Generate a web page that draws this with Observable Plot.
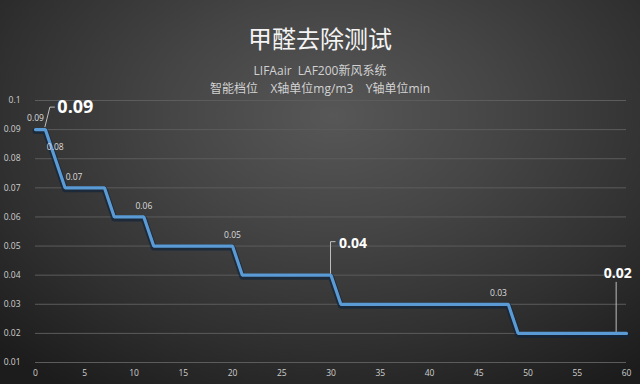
<!DOCTYPE html>
<html><head><meta charset="utf-8">
<script src="https://cdn.jsdelivr.net/npm/d3@7"></script>
<script src="https://cdn.jsdelivr.net/npm/@observablehq/plot@0.6"></script>
<style>
html,body{margin:0;padding:0;background:#222;}
#wrap{position:relative;width:640px;height:384px;overflow:hidden;
 background:radial-gradient(ellipse 75% 85% at 52% 30%, #575757 0%, #454545 35%, #303030 70%, #1c1c1c 100%);
 font-family:"Open Sans","Noto Sans CJK SC",sans-serif;}
#head{position:relative;height:90px;}
.t{position:absolute;left:0;width:640px;text-align:center;white-space:pre;}
#title{top:20px;font-size:24px;color:#f4f4f4;font-family:"Noto Sans CJK SC",sans-serif;}
#sub1{top:61px;font-size:12px;color:#d2d2d2;}
#sub2{top:79px;font-size:12px;color:#d2d2d2;}
#chart svg{display:block;background:transparent;overflow:visible;}
</style></head>
<body>
<div id="wrap">
  <div id="head">
    <div class="t" id="title">甲醛去除测试</div>
    <div class="t" id="sub1">LIFAair  LAF200新风系统</div>
    <div class="t" id="sub2">智能档位    X轴单位mg/m3    Y轴单位min</div>
  </div>
  <div id="chart"></div>
</div>
<script>
// minutes (x) and concentration (y)
const minutes = [0, 1, 2, 3, 7, 8, 11, 12, 20, 21, 30, 31, 48, 49, 60];
const values  = [0.09, 0.09, 0.08, 0.07, 0.07, 0.06, 0.06, 0.05, 0.05, 0.04, 0.04, 0.03, 0.03, 0.02, 0.02];
// small value labels
const labelMinutes = [0, 2, 3, 11, 20, 47];
const labelValues  = [0.09, 0.08, 0.07, 0.06, 0.05, 0.03];
// big callouts
const calloutMinutes = [1, 30, 59];
const calloutValues  = [0.09, 0.04, 0.02];
// ticks
const yTicks = [0.01, 0.02, 0.03, 0.04, 0.05, 0.06, 0.07, 0.08, 0.09, 0.1];
const xTicks = [0, 5, 10, 15, 20, 25, 30, 35, 40, 45, 50, 55, 60];

const data = minutes.map((m, i) => ({m, v: values[i]}));
const labels = labelMinutes.map((m, i) => ({m, v: labelValues[i]}));
const callouts = calloutMinutes.map((m, i) => ({m, v: calloutValues[i], i}));
const fmt = d => String(+d.toFixed(2));

const leaders = (index, scales) => {
  const g = d3.create("svg:g").attr("fill", "none").attr("stroke", "#bdbdbd").attr("stroke-width", 1);
  callouts.forEach((c, k) => {
    const px = scales.x(c.m), py = scales.y(c.v);
    let pts;
    if (k === 0) pts = [[px, py - 2], [px + 5, py - 22], [px + 10, py - 22]];
    else if (k === 1) pts = [[px, py - 1], [px, py - 33], [px + 5, py - 33]];
    else pts = [[px, py - 1], [px, py - 51]];
    g.append("path").attr("d", d3.line()(pts));
  });
  return g.node();
};

const smallText = {x: "m", y: "v", text: d => fmt(d.v), dy: -11, fill: "#dcdcdc", fontSize: 8.5};
const bigText = {x: "m", y: "v", text: d => fmt(d.v), fill: "#ffffff", fontWeight: "bold"};

const plot = Plot.plot({
  width: 640,
  height: 294,
  marginLeft: 35,
  marginRight: 14,
  marginTop: 10,
  marginBottom: 22,
  x: {domain: [0, 60], axis: null},
  y: {domain: [0.01, 0.1], axis: null},
  style: {background: "transparent", fontFamily: "Open Sans, Noto Sans, sans-serif"},
  marks: [
    Plot.ruleY(yTicks, {stroke: "#5c5c5c", strokeWidth: 1}),
    Plot.text(yTicks, {x: 0, y: d => d, text: fmt, textAnchor: "end", dx: -15, fill: "#cfcfcf", fontSize: 8.5}),
    Plot.text(xTicks, {x: d => d, y: 0.01, text: d => String(d), dy: 11, fill: "#cfcfcf", fontSize: 8.5}),
    Plot.line(data, {x: "m", y: "v", stroke: "#14253a", strokeWidth: 6, strokeOpacity: 0.75, dy: 1.5}),
    Plot.line(data, {x: "m", y: "v", stroke: "#5b9bd5", strokeWidth: 3.2, strokeLinejoin: "miter"}),
    Plot.text(labels.filter(d => d.m !== 3), smallText),
    Plot.text(labels.filter(d => d.m === 3), {...smallText, dx: 9}),
    leaders,
    Plot.text(callouts.filter(d => d.i === 0), {...bigText, dx: 12, dy: -22, textAnchor: "start", fontSize: 18}),
    Plot.text(callouts.filter(d => d.i === 1), {...bigText, dx: 8, dy: -32, textAnchor: "start", fontSize: 14}),
    Plot.text(callouts.filter(d => d.i === 2), {...bigText, dx: 1, dy: -60, textAnchor: "middle", fontSize: 14})
  ]
});
document.getElementById("chart").appendChild(plot);
</script>
</body></html>
